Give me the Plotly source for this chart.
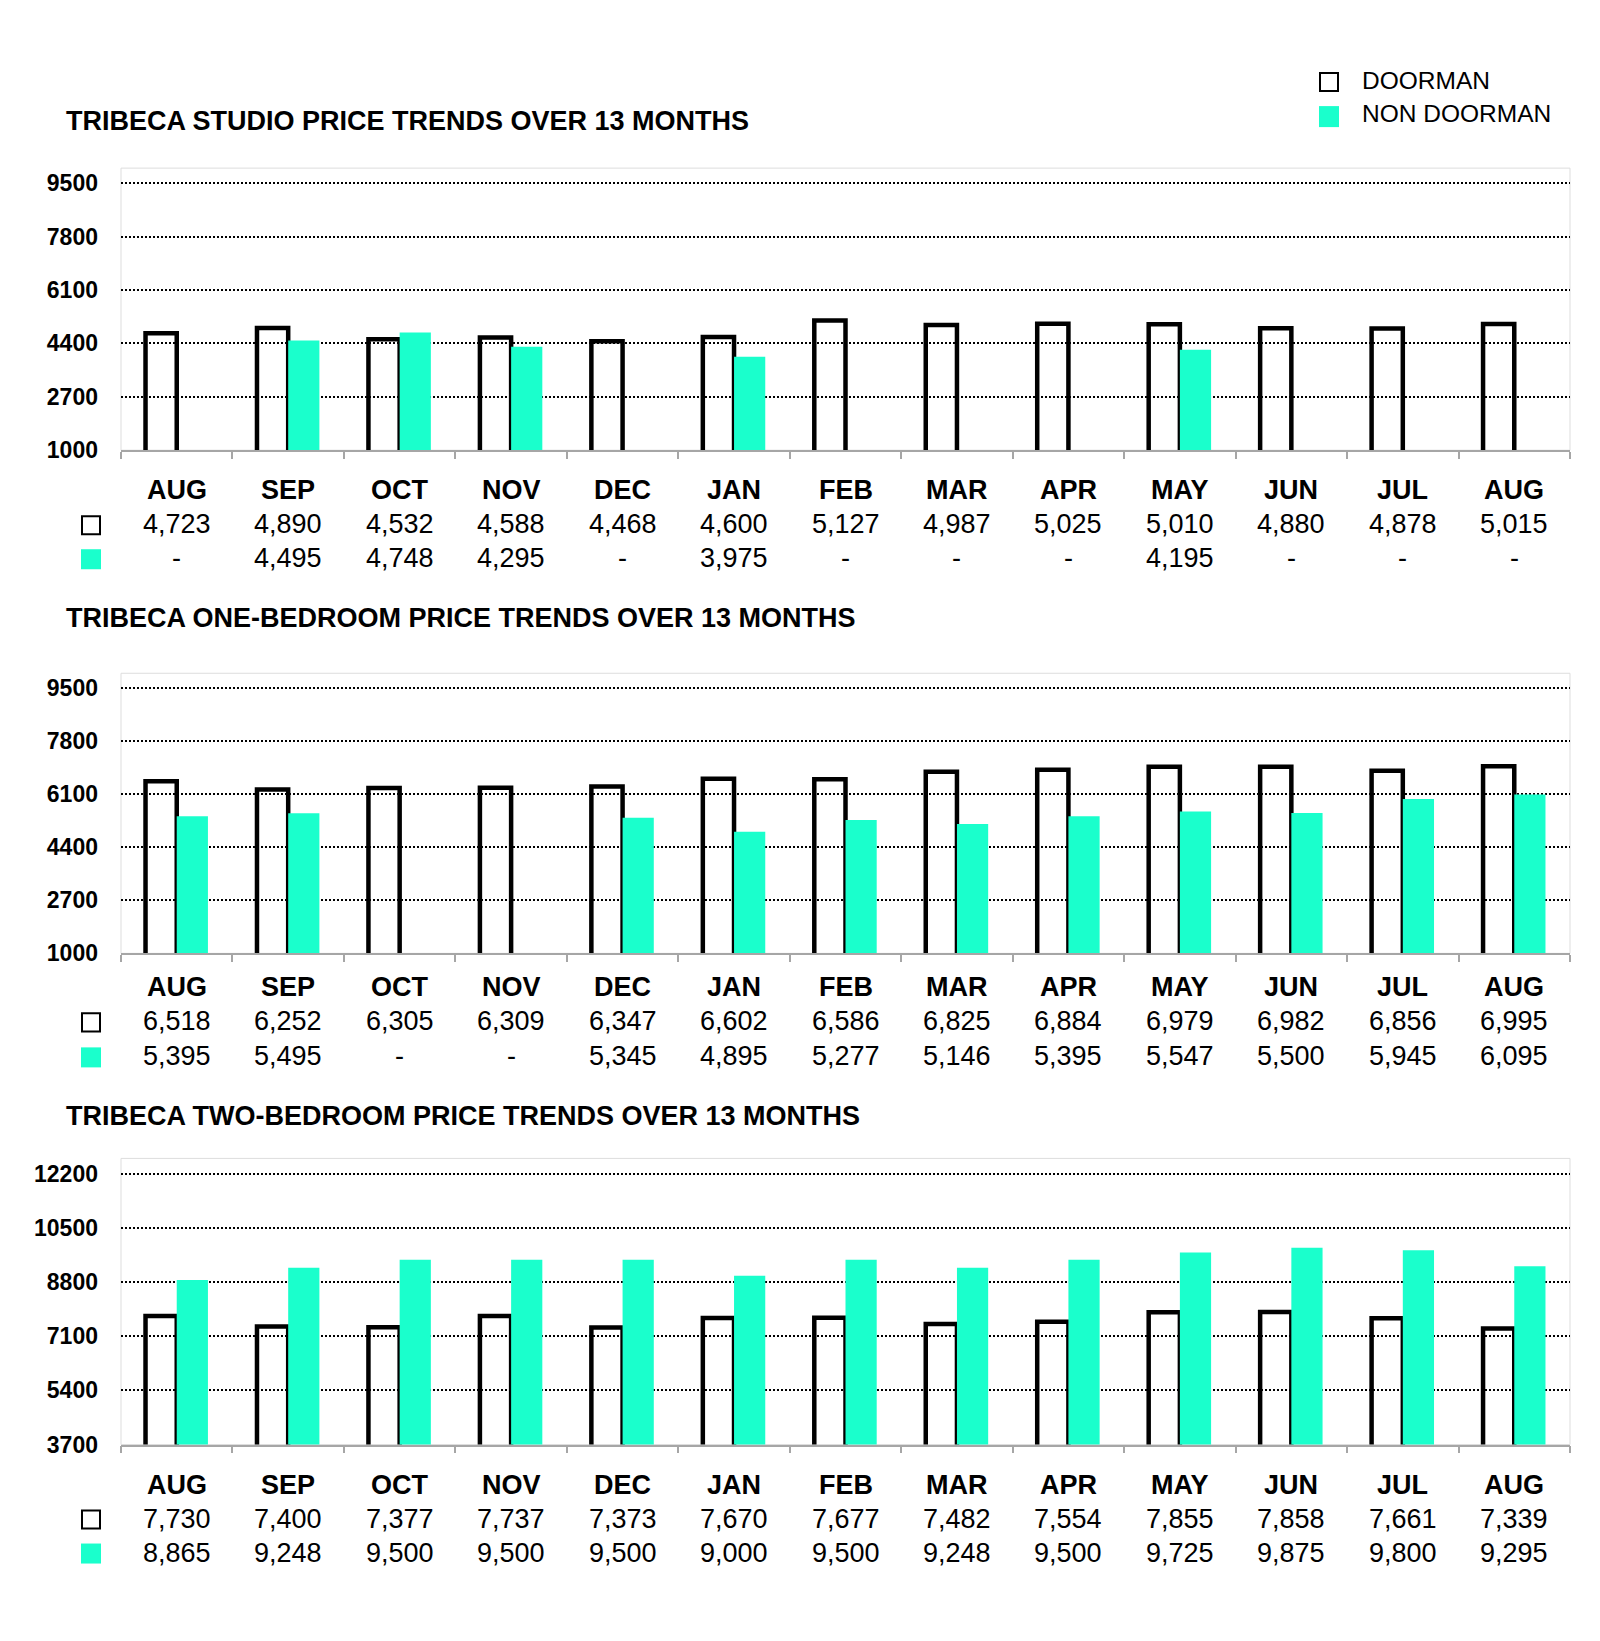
import plotly.graph_objects as go

# page body has an 8px margin, so the figure is shrunk by 16px to fit the window
PAGE_W, PAGE_H = 1600, 1641
OFF = 8
W, H = PAGE_W - 2 * OFF, PAGE_H - 2 * OFF
SY = 0.9917  # measured vertical scale of the captured page

months = ["AUG", "SEP", "OCT", "NOV", "DEC", "JAN", "FEB", "MAR", "APR", "MAY", "JUN", "JUL", "AUG"]

studio_doorman = [4723, 4890, 4532, 4588, 4468, 4600, 5127, 4987, 5025, 5010, 4880, 4878, 5015]
studio_non = [None, 4495, 4748, 4295, None, 3975, None, None, None, 4195, None, None, None]

onebed_doorman = [6518, 6252, 6305, 6309, 6347, 6602, 6586, 6825, 6884, 6979, 6982, 6856, 6995]
onebed_non = [5395, 5495, None, None, 5345, 4895, 5277, 5146, 5395, 5547, 5500, 5945, 6095]

twobed_doorman = [7730, 7400, 7377, 7737, 7373, 7670, 7677, 7482, 7554, 7855, 7858, 7661, 7339]
twobed_non = [8865, 9248, 9500, 9500, 9500, 9000, 9500, 9248, 9500, 9725, 9875, 9800, 9295]

titles = ["TRIBECA STUDIO PRICE TRENDS OVER 13 MONTHS",
          "TRIBECA ONE-BEDROOM PRICE TRENDS OVER 13 MONTHS",
          "TRIBECA TWO-BEDROOM PRICE TRENDS OVER 13 MONTHS"]
y_ticks = [[1000, 2700, 4400, 6100, 7800, 9500],
           [1000, 2700, 4400, 6100, 7800, 9500],
           [3700, 5400, 7100, 8800, 10500, 12200]]
y_ranges = [[1000, 9980], [1000, 9980], [3700, 12680]]

TEAL = "#1affcc"
FONT = "Liberation Sans, Arial, sans-serif"

# pixel layout (window coords) of each panel: plot top, plot bottom, title y, month row, row 1, row 2
panels = [
    dict(top=168, bottom=450, title=121, rows=(490, 524, 558)),
    dict(top=673, bottom=953, title=618, rows=(987, 1021, 1056)),
    dict(top=1158, bottom=1444, title=1116, rows=(1484, 1518, 1552)),
]
X0, X1 = 121, 1570


def px(x):
    return (x - OFF) / W


def py(y):
    return 1 - (y / SY - OFF) / H


def fmt(v):
    return "-" if v is None else f"{v:,}"


series = [(studio_doorman, studio_non), (onebed_doorman, onebed_non), (twobed_doorman, twobed_non)]
idx = list(range(len(months)))

fig = go.Figure()
annotations = []
shapes = []
layout = {}

for k, ((door, non), p) in enumerate(zip(series, panels)):
    sfx = "" if k == 0 else str(k + 1)
    xa, ya = "x" + sfx, "y" + sfx
    fig.add_trace(go.Bar(x=idx, y=door, xaxis=xa, yaxis=ya, name="DOORMAN",
                         marker=dict(color="rgba(0,0,0,0)", line=dict(color="black", width=4.5)),
                         showlegend=False))
    fig.add_trace(go.Bar(x=idx, y=non, xaxis=xa, yaxis=ya, name="NON DOORMAN",
                         marker=dict(color=TEAL, line=dict(width=0)),
                         showlegend=False))

    layout["xaxis" + sfx] = dict(
        domain=[px(X0), px(X1)], anchor=ya, range=[-0.5, len(months) - 0.5],
        tickvals=[i - 0.5 for i in range(len(months) + 1)], showticklabels=False,
        ticks="outside", ticklen=7, tickcolor="#a6a6a6", tickwidth=1.5,
        showline=True, linecolor="#a6a6a6", linewidth=1.5,
        showgrid=False, zeroline=False, fixedrange=True)
    layout["yaxis" + sfx] = dict(
        domain=[py(p["bottom"]), py(p["top"])], anchor=xa, range=y_ranges[k],
        tickvals=y_ticks[k], ticktext=[str(t) for t in y_ticks[k]],
        ticks="", ticklabelstandoff=22,
        tickfont=dict(family=FONT, size=23, color="black", weight="bold"),
        showgrid=True, gridcolor="black", gridwidth=2, griddash="2px,2px",
        showline=False, zeroline=False, fixedrange=True)

    # light frame around plot area
    shapes.append(dict(type="rect", xref=xa + " domain", yref=ya + " domain",
                       x0=0, x1=1, y0=0, y1=1, line=dict(color="#dddddd", width=1),
                       layer="below"))

    annotations.append(dict(text=titles[k], xref="paper", yref="paper", x=px(64), y=py(p["title"]),
                            xanchor="left", yanchor="middle", showarrow=False,
                            font=dict(family=FONT, size=27, color="black", weight="bold")))
    r0, r1, r2 = p["rows"]
    for i, m in enumerate(months):
        annotations.append(dict(text=m, xref=xa, yref="paper", x=i, y=py(r0), showarrow=False,
                                xanchor="center", yanchor="middle",
                                font=dict(family=FONT, size=27, color="black", weight="bold")))
        annotations.append(dict(text=fmt(door[i]), xref=xa, yref="paper", x=i, y=py(r1), showarrow=False,
                                xanchor="center", yanchor="middle",
                                font=dict(family=FONT, size=27, color="black")))
        annotations.append(dict(text=fmt(non[i]), xref=xa, yref="paper", x=i, y=py(r2), showarrow=False,
                                xanchor="center", yanchor="middle",
                                font=dict(family=FONT, size=27, color="black")))
    # row keys
    shapes.append(dict(type="rect", xref="paper", yref="paper", x0=px(82), x1=px(100),
                       y0=py(r1 + 10), y1=py(r1 - 8), line=dict(color="black", width=2),
                       fillcolor="white"))
    shapes.append(dict(type="rect", xref="paper", yref="paper", x0=px(81), x1=px(101),
                       y0=py(r2 + 11), y1=py(r2 - 9), line=dict(width=0), fillcolor=TEAL))

# top-right legend
shapes.append(dict(type="rect", xref="paper", yref="paper", x0=px(1320), x1=px(1338),
                   y0=py(91), y1=py(73), line=dict(color="black", width=2), fillcolor="white"))
shapes.append(dict(type="rect", xref="paper", yref="paper", x0=px(1319), x1=px(1339),
                   y0=py(127), y1=py(106), line=dict(width=0), fillcolor=TEAL))
for txt, yy in [("DOORMAN", 80), ("NON DOORMAN", 113)]:
    annotations.append(dict(text=txt, xref="paper", yref="paper", x=px(1360), y=py(yy),
                            xanchor="left", yanchor="middle", showarrow=False,
                            font=dict(family=FONT, size=24.5, color="black")))

fig.update_layout(
    width=W, height=H, margin=dict(l=0, r=0, t=0, b=0),
    paper_bgcolor="white", plot_bgcolor="white",
    barmode="group", bargap=0.44, bargroupgap=0,
    annotations=annotations, shapes=shapes,
    **layout)

fig.write_html("out.html")
